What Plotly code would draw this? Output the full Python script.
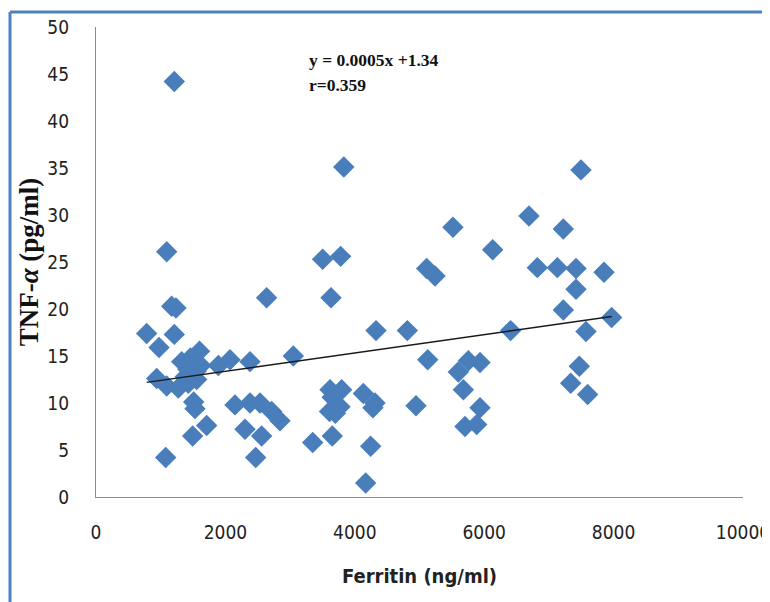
import plotly.graph_objects as go

ferritin = [1210, 3830, 7496, 6692, 5517, 7223, 1093, 6131, 3503, 3781,
            5111, 5240, 6821, 7130, 7419, 7852, 7419, 2637, 3632, 1170,
            1236, 7223, 7970, 783, 1210, 4328, 4812, 6409, 7573, 974,
            1600, 3050, 1324, 1504, 1420, 1460, 1550, 1891, 2071, 2380,
            5127, 5600, 5755, 5935, 7470, 938, 1093, 1272, 1427, 1556,
            7337, 5678, 3617, 3797, 4132, 7599, 1510, 1530, 2148, 2380,
            2535, 2715, 2844, 3650, 3610, 3771, 4312, 4280, 4946, 5935,
            5703, 5884, 1711, 2303, 1494, 2560, 3349, 3652, 4245, 1077,
            2468, 4168, 3700, 1380, 1620]
tnf = [44.2, 35.1, 34.8, 29.9, 28.7, 28.5, 26.1, 26.3, 25.3, 25.6,
       24.3, 23.5, 24.4, 24.4, 24.3, 23.9, 22.1, 21.2, 21.2, 20.3,
       20.1, 19.9, 19.1, 17.4, 17.3, 17.7, 17.7, 17.7, 17.6, 15.9,
       15.5, 15.0, 14.4, 14.4, 13.6, 14.8, 13.4, 14.0, 14.6, 14.4,
       14.6, 13.3, 14.5, 14.3, 13.9, 12.6, 11.8, 11.6, 12.1, 12.5,
       12.1, 11.4, 11.4, 11.4, 11.0, 10.9, 10.1, 9.4, 9.8, 10.0,
       10.0, 9.1, 8.1, 10.6, 9.1, 9.6, 10.0, 9.5, 9.7, 9.5,
       7.5, 7.7, 7.6, 7.2, 6.5, 6.5, 5.8, 6.5, 5.4, 4.2,
       4.2, 1.5, 8.9, 12.8, 14.0]

# trend line as drawn on the reference
trend_slope = 0.000975
trend_intercept = 11.43

x_ticks = [0, 2000, 4000, 6000, 8000, 10000]
x_tick_labels = ["0", "2000", "4000", "6000", "8000", "10000"]
y_ticks = [0, 5, 10, 15, 20, 25, 30, 35, 40, 45, 50]
y_tick_labels = [str(v) for v in y_ticks]

equation_text = "y = 0.0005x +1.34"
r_text = "r=0.359"

fig = go.Figure()
fig.add_trace(go.Scatter(
    x=ferritin, y=tnf, mode="markers",
    marker=dict(symbol="diamond", size=16.5, color="#4A7EBB", line=dict(width=0)),
    showlegend=False, hoverinfo="skip"))

tx = [min(ferritin), max(ferritin)]
ty = [trend_intercept + trend_slope * v for v in tx]
fig.add_trace(go.Scatter(x=tx, y=ty, mode="lines",
                         line=dict(color="#1a1a1a", width=1.5),
                         showlegend=False, hoverinfo="skip"))

narrow = "DejaVu Sans Condensed, DejaVu Sans, sans-serif"
tick_font = dict(family=narrow, size=19, color="#222222")

fig.update_layout(
    width=770, height=602,
    margin=dict(l=88, r=35, t=19, b=113),
    plot_bgcolor="white", paper_bgcolor="white",
    xaxis=dict(range=[0, 10000], tickvals=x_ticks, ticktext=x_tick_labels,
               showgrid=False, zeroline=False, automargin=False,
               showline=True, linecolor="#8c8c8c", linewidth=1.2, ticks="",
               tickfont=tick_font, ticklabelstandoff=18,
               title=dict(text="<b>Ferritin (ng/ml)</b>",
                          font=dict(family=narrow, size=20, color="#222222"),
                          standoff=27)),
    yaxis=dict(range=[0, 50], tickvals=y_ticks, ticktext=y_tick_labels,
               showgrid=False, zeroline=False, automargin=False,
               showline=True, linecolor="#8c8c8c", linewidth=1.2, ticks="",
               tickfont=tick_font, ticklabelstandoff=22,
               title=dict(text="<b>TNF-<i>α</i> (pg/ml)</b>",
                          font=dict(family="Liberation Serif, Times New Roman, serif", size=27, color="#111111"),
                          standoff=0)),
    annotations=[
        dict(text="<b>" + equation_text + "</b>", xref="paper", yref="paper",
             x=(307 - 96) / 647, y=(497 - 60) / 470, xanchor="left", yanchor="middle",
             showarrow=False, font=dict(family="Liberation Serif, Times New Roman, serif", size=17.5, color="#111111")),
        dict(text="<b>" + r_text + "</b>", xref="paper", yref="paper",
             x=(307 - 96) / 647, y=(497 - 85) / 470, xanchor="left", yanchor="middle",
             showarrow=False, font=dict(family="Liberation Serif, Times New Roman, serif", size=17.5, color="#111111")),
    ],
    shapes=[
        dict(type="line", xref="paper", yref="paper",
             x0=(10 - 96) / 647, x1=(10 - 96) / 647, y0=(497 - 12) / 470, y1=(497 - 620) / 470,
             line=dict(color="#4F81BD", width=3)),
        dict(type="line", xref="paper", yref="paper",
             x0=(10 - 96) / 647, x1=(790 - 96) / 647, y0=(497 - 12) / 470, y1=(497 - 12) / 470,
             line=dict(color="#4F81BD", width=3)),
    ],
)

fig.write_html("out.html")
